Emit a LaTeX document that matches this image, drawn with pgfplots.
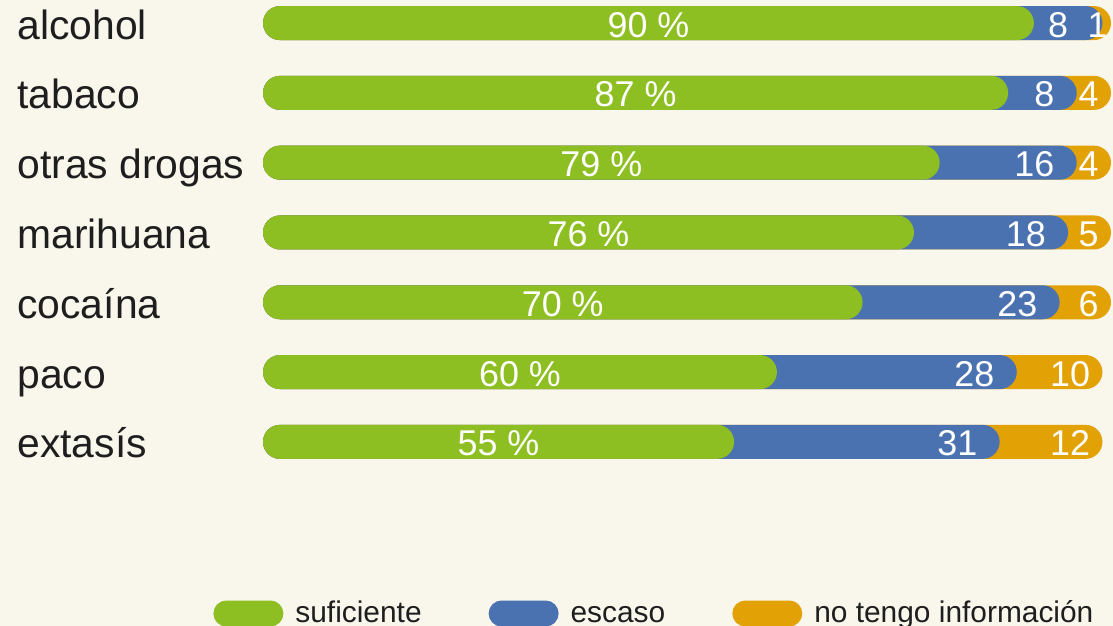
\documentclass[border=0pt]{standalone}
\usepackage{pgfplots}
\pgfplotsset{compat=1.18}
\usepackage{pgfplotstable}
\usepackage{fontspec}
\setmainfont{Liberation Sans}
\definecolor{bg}{RGB}{249,246,236}
\definecolor{cgreen}{RGB}{141,190,34}
\definecolor{cblue}{RGB}{74,114,176}
\definecolor{corange}{RGB}{226,161,4}
\definecolor{ctext}{RGB}{30,30,30}
% bx, ox: label offsets (bp) for the blue and orange value labels
\pgfplotstableread{
y s e n bx ox
0 90 8 1 -17 -1.5
1 87 8 4 -11 -6
2 79 16 4 -11 -6
3 76 18 5 -11 -6
4 70 23 6 -11 -6
5 60 28 10 -11 -6
6 55 31 12 -11 -6
}\datatable
\begin{document}
\begin{tikzpicture}
\useasboundingbox (0,0) rectangle (556.5bp,313bp);
\fill[bg] (0,0) rectangle (556.5bp,313bp);
\begin{axis}[
  at={(131.5bp,83.35bp)}, anchor=south west,
  scale only axis, width=424bp, height=226.85bp,
  xmin=0, xmax=99, ymin=-0.25, ymax=6.25, y dir=reverse,
  clip=false,
  axis line style={draw=none},
  tick style={draw=none},
  xtick=\empty,
  ytick={0,...,6},
  yticklabels={alcohol,tabaco,otras drogas,marihuana,cocaína,paco,extasís},
  yticklabel style={anchor=base west, inner sep=0pt, xshift=-123bp, yshift=-8bp,
    font=\fontsize{20.5}{23}\selectfont, text=ctext},
  legend columns=3,
  legend style={draw=none, fill=none, inner sep=0pt,
    at={(axis description cs:0,0)}, anchor=west, xshift=-25bp, yshift=-77.6bp,
    font=\fontsize{15}{17}\selectfont, text=ctext,
    nodes={text height=11bp, text depth=3bp},
    /tikz/every even column/.append style={column sep=31.5bp}},
  legend image code/.code={\fill[rounded corners=6.5bp] (0bp,-6bp) rectangle (35bp,7bp); \path (39bp,0bp);},
]
\addplot[xbar, bar width=17bp, bar shift=0pt, fill=corange, draw=none, rounded corners=8.5bp, forget plot]
  table[x expr=\thisrow{s}+\thisrow{e}+\thisrow{n}, y=y] {\datatable};
\addplot[xbar, bar width=17bp, bar shift=0pt, fill=cblue, draw=none, rounded corners=8.5bp, forget plot]
  table[x expr=\thisrow{s}+\thisrow{e}, y=y] {\datatable};
\addplot[xbar, bar width=17bp, bar shift=0pt, fill=cgreen, draw=none, rounded corners=8.5bp, forget plot]
  table[x=s, y=y] {\datatable};
% labels
\addplot[only marks, mark=none, forget plot, point meta=explicit symbolic,
  nodes near coords={\pgfplotspointmeta~\%},
  every node near coord/.style={anchor=center, inner sep=0pt, yshift=-0.8bp, text=white, font=\fontsize{18}{20}\selectfont}]
  table[x expr=\thisrow{s}/2, y=y, meta=s] {\datatable};
\addplot[only marks, mark=none, forget plot, point meta=explicit symbolic,
  visualization depends on={\thisrow{bx}\as\bxs},
  nodes near coords={\pgfplotspointmeta},
  every node near coord/.style={anchor=east, inner sep=0pt, xshift=\bxs bp, yshift=-0.8bp, text=white, font=\fontsize{18}{20}\selectfont}]
  table[x expr=\thisrow{s}+\thisrow{e}, y=y, meta=e] {\datatable};
\addplot[only marks, mark=none, forget plot, point meta=explicit symbolic,
  visualization depends on={\thisrow{ox}\as\oxs},
  nodes near coords={\pgfplotspointmeta},
  every node near coord/.style={anchor=east, inner sep=0pt, xshift=\oxs bp, yshift=-0.8bp, text=white, font=\fontsize{18}{20}\selectfont}]
  table[x expr=\thisrow{s}+\thisrow{e}+\thisrow{n}, y=y, meta=n] {\datatable};
\addlegendimage{fill=cgreen, draw=none}
\addlegendentry{suficiente}
\addlegendimage{fill=cblue, draw=none}
\addlegendentry{escaso}
\addlegendimage{fill=corange, draw=none}
\addlegendentry{no tengo información}
\end{axis}
\end{tikzpicture}
\end{document}
